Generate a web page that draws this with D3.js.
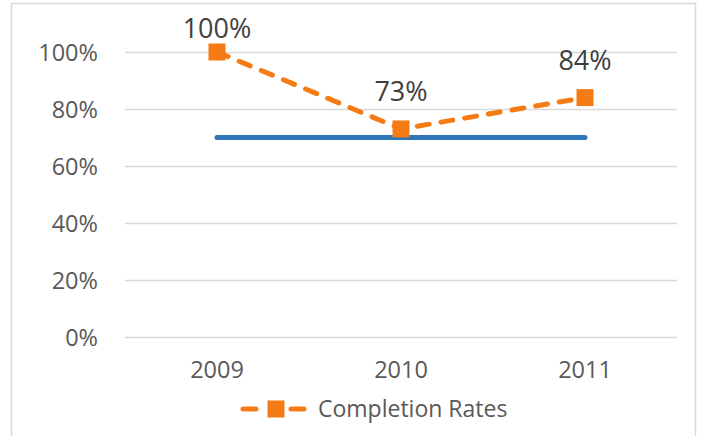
<!DOCTYPE html>
<html>
<head>
<meta charset="utf-8">
<script src="https://cdn.jsdelivr.net/npm/d3@7"></script>
<style>
  body { margin: 0; background: #fff; }
  text { font-family: "Open Sans", sans-serif; }
</style>
</head>
<body>
<script>
let w = 702;
let h = 436;

let years = ["2009", "2010", "2011"];
let rates = [1.00, 0.73, 0.84];
let target = [0.70, 0.70, 0.70];
let yTicks = [0, 0.2, 0.4, 0.6, 0.8, 1.0];
let seriesName = "Completion Rates";

let orange = "#f57b14";
let blue = "#2e75b6";

let svg = d3.select("body")
  .append("svg")
  .attr("width", w)
  .attr("height", h);

// chart frame
svg.append("rect")
  .attr("x", 11.5)
  .attr("y", 3.5)
  .attr("width", 684)
  .attr("height", 440)
  .attr("fill", "none")
  .attr("stroke", "#d9d9d9")
  .attr("stroke-width", 1.5);

// Scales
let xScale = d3.scaleBand()
  .domain(years)
  .range([125, 677]);

let yScale = d3.scaleLinear()
  .domain([0, 1])
  .range([337, 52]);

let cx = (d) => xScale(d) + xScale.bandwidth() / 2;

// gridlines + y labels
let yAxis = d3.axisLeft(yScale)
  .tickValues(yTicks)
  .tickSize(-(677 - 125))
  .tickPadding(27)
  .tickFormat(d3.format(".0%"));

let gy = svg.append("g")
  .attr("transform", "translate(125,0)")
  .call(yAxis);
gy.select(".domain").remove();
gy.selectAll(".tick line")
  .attr("stroke", "#d9d9d9")
  .attr("stroke-width", 1.5);
gy.selectAll(".tick text")
  .attr("fill", "#595959")
  .attr("font-size", "23.5px")
  .attr("dy", "0.36em");

// x labels
let xAxis = d3.axisBottom(xScale)
  .tickSize(0)
  .tickPadding(24);
let gx = svg.append("g")
  .attr("transform", "translate(0,337)")
  .call(xAxis);
gx.select(".domain").remove();
gx.selectAll(".tick text")
  .attr("fill", "#595959")
  .attr("font-size", "23.5px")
  .attr("font-family", "Open Sans, sans-serif");

// target line
let line = d3.line()
  .x((d, i) => cx(years[i]))
  .y((d) => yScale(d));

svg.append("path")
  .datum(target)
  .attr("d", line)
  .attr("fill", "none")
  .attr("stroke", blue)
  .attr("stroke-width", 5)
  .attr("stroke-linecap", "round");

// completion rates
svg.append("path")
  .datum(rates)
  .attr("d", line)
  .attr("fill", "none")
  .attr("stroke", orange)
  .attr("stroke-width", 5)
  .attr("stroke-linecap", "round")
  .attr("stroke-dasharray", "12 12");

let m = 17;
svg.selectAll("rect.marker")
  .data(rates)
  .enter()
  .append("rect")
  .attr("class", "marker")
  .attr("x", (d, i) => cx(years[i]) - m / 2)
  .attr("y", (d) => yScale(d) - m / 2)
  .attr("width", m)
  .attr("height", m)
  .attr("fill", orange);

svg.selectAll("text.lbl")
  .data(rates)
  .enter()
  .append("text")
  .attr("class", "lbl")
  .text((d) => d3.format(".0%")(d))
  .attr("text-anchor", "middle")
  .attr("x", (d, i) => cx(years[i]))
  .attr("y", (d) => Math.max(yScale(d) - 28, 38))
  .attr("font-size", "27px")
  .attr("fill", "#404040");

// legend
let lg = svg.append("g").attr("transform", "translate(240,409)");
lg.append("line")
  .attr("x1", 3).attr("x2", 64)
  .attr("y1", 0).attr("y2", 0)
  .attr("stroke", orange)
  .attr("stroke-width", 5)
  .attr("stroke-linecap", "round")
  .attr("stroke-dasharray", "13 35 13");
lg.append("rect")
  .attr("x", 36 - m / 2)
  .attr("y", -m / 2)
  .attr("width", m)
  .attr("height", m)
  .attr("fill", orange);
lg.append("text")
  .text(seriesName)
  .attr("x", 78)
  .attr("y", 0)
  .attr("dy", "0.36em")
  .attr("font-size", "23px")
  .attr("fill", "#595959");
</script>
</body>
</html>
